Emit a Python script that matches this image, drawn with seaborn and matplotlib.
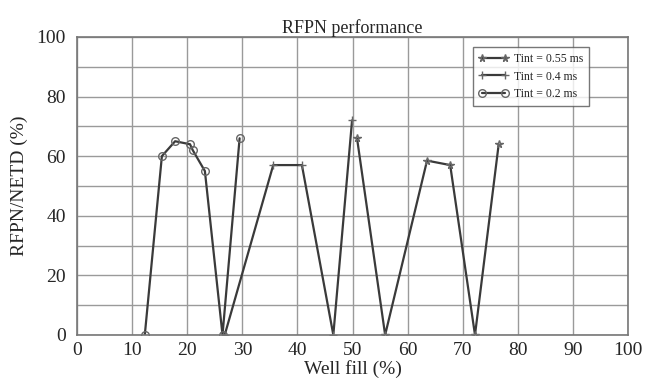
import numpy as np
import pandas as pd
import matplotlib
matplotlib.use('Agg')
import matplotlib.pyplot as plt
import seaborn as sns

# valores
fill_055 = [50.8, 55.9, 63.5, 67.7, 72.2, 76.5]
rfpn_055 = [66, 0, 58.5, 57, 0, 64]

fill_04 = [26.8, 35.6, 40.8, 46.5, 49.9]
rfpn_04 = [0, 57, 57, 0, 72]

fill_02 = [12.3, 15.4, 17.8, 20.5, 21.0, 23.2, 26.4, 29.5]
rfpn_02 = [0, 60, 65, 64, 62, 55, 0, 66]

labels = ['Tint = 0.55 ms', 'Tint = 0.4 ms', 'Tint = 0.2 ms']
markers = ['*', '+', 'o']

Base_Dados = pd.concat([
    pd.DataFrame({'fill': fill_055, 'rfpn': rfpn_055, 'tint': labels[0]}),
    pd.DataFrame({'fill': fill_04, 'rfpn': rfpn_04, 'tint': labels[1]}),
    pd.DataFrame({'fill': fill_02, 'rfpn': rfpn_02, 'tint': labels[2]}),
])

sns.set_style('whitegrid')
plt.rcParams['font.family'] = ['Liberation Serif', 'DejaVu Serif']

fig = plt.figure(figsize=(6.47, 3.89), dpi=100)
ax = fig.add_axes([0.119, 0.139, 0.852, 0.766])

for lab, mk in zip(labels, markers):
    d = Base_Dados[Base_Dados['tint'] == lab]
    sns.lineplot(data=d, x='fill', y='rfpn', ax=ax, color='#3a3a3a', linewidth=1.6,
                 marker=mk, markersize=5.5, markerfacecolor='none', markeredgecolor='#666666',
                 markeredgewidth=1.0, label=lab, sort=False, estimator=None)

ax.set_xlim(0, 100)
ax.set_ylim(0, 100)
ax.set_xticks(np.arange(0, 101, 10))
ax.set_yticks(np.arange(0, 101, 20))
ax.set_yticks(np.arange(0, 101, 10), minor=True)
ax.grid(True, which='both', color='#9a9a9a', linewidth=1.0)
for s in ax.spines.values():
    s.set_color('#777777')
    s.set_linewidth(1.2)
ax.tick_params(labelsize=14, length=0)
ax.tick_params(axis='x', pad=5)
ax.tick_params(axis='y', pad=8)
ax.set_xlabel('Well fill (%)', fontsize=14, labelpad=1)
ax.set_ylabel('RFPN/NETD (%)', fontsize=14, labelpad=6)
ax.set_title('RFPN performance', fontsize=13, pad=3)

leg = ax.legend(loc='upper right', bbox_to_anchor=(0.94, 0.985), fontsize=8.5, numpoints=2,
                frameon=True, fancybox=False, handlelength=2.5, borderpad=0.5,
                labelspacing=0.45, handletextpad=0.5)
leg.get_frame().set_edgecolor('#555555')
leg.get_frame().set_linewidth(1.0)

plt.savefig('out.png', dpi=100)
